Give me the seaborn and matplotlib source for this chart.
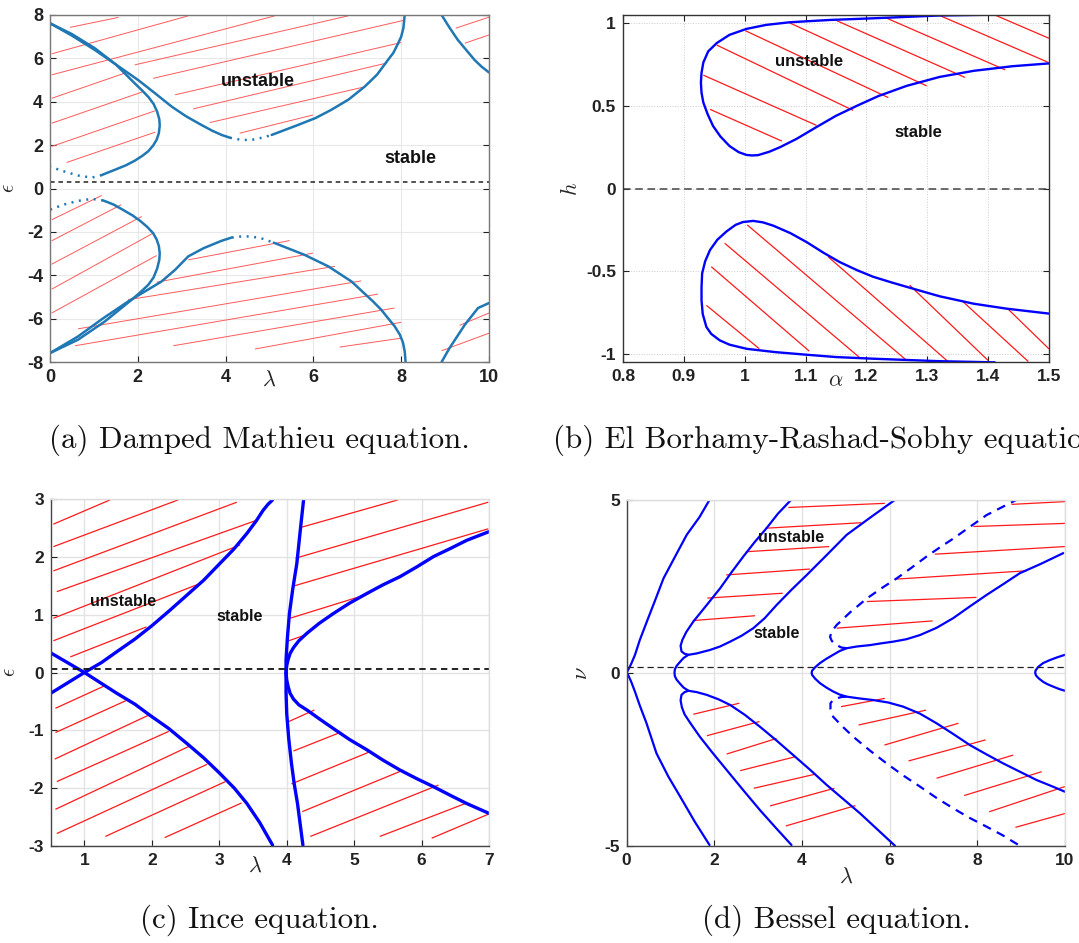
import numpy as np
import matplotlib
matplotlib.use('Agg')
import matplotlib.pyplot as plt
import seaborn as sns

# ---------------- (a) Damped Mathieu ----------------
a_hook_up_x = [0.0, 0.5, 1.02, 1.5, 1.93, 2.1, 2.25, 2.36, 2.44, 2.49, 2.5, 2.48, 2.43, 2.35, 2.24, 2.1,
               1.93, 1.73, 1.5, 1.3, 1.18]
a_hook_up_y = [7.62, 7.12, 6.47, 5.72, 4.85, 4.52, 4.2, 3.9, 3.55, 3.2, 2.9, 2.55, 2.25, 1.98, 1.72, 1.5,
               1.28, 1.07, 0.88, 0.72, 0.62]
a_hook_up_dot_x = [1.18, 0.95, 0.64, 0.3, 0.0]
a_hook_up_dot_y = [0.62, 0.5, 0.6, 0.8, 1.01]
a_v_up_x = [0.0, 0.5, 1.02, 1.5, 2.01, 2.4, 2.77, 3.1, 3.45, 3.7, 3.91, 4.1]
a_v_up_y = [7.62, 7.05, 6.39, 5.72, 5.0, 4.38, 3.78, 3.33, 2.93, 2.66, 2.47, 2.34]
a_v_up_dot_x = [4.1, 4.36, 4.59, 4.85, 5.05]
a_v_up_dot_y = [2.34, 2.24, 2.24, 2.35, 2.47]
a_v_up2_x = [5.05, 5.65, 6.05, 6.41, 6.8, 7.17, 7.45, 7.7, 7.82, 7.92, 8.0, 8.05, 8.08]
a_v_up2_y = [2.47, 2.93, 3.25, 3.63, 4.1, 4.7, 5.25, 5.93, 6.25, 6.65, 7.0, 7.4, 8.0]
a_right_up_x = [8.92, 9.1, 9.29, 9.48, 9.67, 9.83, 10.0]
a_right_up_y = [8.0, 7.42, 6.85, 6.39, 5.93, 5.62, 5.35]

a_hook_lo_x = [0.0, 0.64, 1.25, 1.86, 2.05, 2.24, 2.36, 2.44, 2.49, 2.5, 2.48, 2.43, 2.35, 2.22, 2.06,
               1.88, 1.66, 1.45, 1.3, 1.21]
a_hook_lo_y = [-7.59, -6.97, -6.13, -5.13, -4.8, -4.44, -4.1, -3.7, -3.3, -2.98, -2.65, -2.35, -2.06,
               -1.78, -1.5, -1.24, -0.98, -0.74, -0.62, -0.55]
a_hook_lo_dot_x = [1.21, 0.95, 0.64, 0.3, 0.0]
a_hook_lo_dot_y = [-0.55, -0.48, -0.57, -0.75, -0.98]
a_v_lo_x = [0.0, 0.64, 1.2, 1.78, 2.54, 2.85, 3.15, 3.5, 3.91, 4.14]
a_v_lo_y = [-7.59, -6.82, -6.0, -5.21, -4.29, -3.75, -3.13, -2.75, -2.41, -2.26]
a_v_lo_dot_x = [4.14, 4.36, 4.59, 4.85, 5.1]
a_v_lo_dot_y = [-2.26, -2.21, -2.21, -2.32, -2.5]
a_v_lo2_x = [5.1, 5.8, 6.34, 6.87, 7.36, 7.55, 7.7, 7.85, 7.97, 8.04, 8.08, 8.1]
a_v_lo2_y = [-2.5, -3.06, -3.59, -4.29, -5.21, -5.6, -5.98, -6.35, -6.74, -7.1, -7.51, -8.0]
a_right_lo_x = [8.92, 9.1, 9.45, 9.75, 10.0]
a_right_lo_y = [-8.0, -7.36, -6.28, -5.51, -5.28]

a_hx0 = [0.46, 0.04, 0.04, 1.93, 2.35, 2.85, 3.26, 3.64, 4.32, 0.04, 0.04, 0.04, 0.38, 9.24, 9.45,
         0.04, 0.04, 0.04, 0.04, 0.04, 3.15, 2.43, 1.78, 0.64, 0.57, 2.81, 4.67, 6.6, 9.33, 8.92]
a_hy0 = [7.43, 6.21, 5.24, 5.7, 5.08, 4.32, 3.67, 3.04, 2.55, 4.16, 3.01, 1.94, 1.2, 7.39, 6.7,
         -1.44, -2.41, -3.49, -4.64, -5.74, -3.29, -4.32, -5.13, -6.47, -7.25, -7.25, -7.4, -7.31, -6.31, -7.48]
a_hx1 = [1.56, 3.15, 5.12, 6.79, 8.05, 8.0, 7.66, 7.13, 5.99, 1.75, 2.1, 2.39, 2.4, 10.0, 10.0,
         1.18, 1.62, 2.09, 2.35, 2.43, 5.46, 5.99, 6.49, 7.09, 7.47, 7.85, 8.0, 8.0, 10.0, 10.0]
a_hy1 = [7.89, 7.96, 7.96, 7.96, 7.75, 6.73, 5.78, 4.67, 3.39, 5.35, 4.45, 3.58, 2.6, 7.9, 7.08,
         -0.32, -0.75, -1.29, -2.06, -3.09, -2.4, -2.98, -3.59, -4.26, -4.87, -5.51, -6.17, -6.9, -5.74, -6.67]

# ---------------- (b) El Borhamy-Rashad-Sobhy ----------------
b_up_x = [1.411, 1.32, 1.211, 1.14, 1.074, 1.035, 1.003, 0.975, 0.954, 0.94, 0.932, 0.929, 0.928, 0.929,
          0.932, 0.939, 0.948, 0.96, 0.975, 0.99, 1.003, 1.012, 1.022, 1.04, 1.058, 1.085, 1.118, 1.15,
          1.184, 1.22, 1.266, 1.32, 1.376, 1.44, 1.5]
b_up_y = [1.052, 1.047, 1.03, 1.02, 1.006, 0.99, 0.966, 0.93, 0.88, 0.83, 0.763, 0.7, 0.641, 0.58,
          0.52, 0.45, 0.378, 0.315, 0.257, 0.22, 0.203, 0.2, 0.202, 0.222, 0.25, 0.3, 0.372, 0.44,
          0.5, 0.56, 0.621, 0.675, 0.712, 0.74, 0.757]
b_lo_x = [1.411, 1.32, 1.211, 1.15, 1.102, 1.05, 1.003, 0.975, 0.959, 0.945, 0.937, 0.931, 0.929, 0.929,
          0.93, 0.935, 0.943, 0.955, 0.97, 0.985, 0.997, 1.014, 1.03, 1.047, 1.075, 1.102, 1.13, 1.156,
          1.185, 1.211, 1.24, 1.266, 1.32, 1.376, 1.43, 1.5]
b_lo_y = [-1.052, -1.045, -1.03, -1.02, -1.006, -0.99, -0.97, -0.945, -0.919, -0.88, -0.838, -0.76,
          -0.676, -0.6, -0.514, -0.44, -0.372, -0.31, -0.26, -0.22, -0.203, -0.196, -0.205, -0.225,
          -0.27, -0.325, -0.39, -0.445, -0.495, -0.534, -0.567, -0.595, -0.652, -0.697, -0.727, -0.757]
b_hx0 = [0.943, 0.932, 0.954, 1.001, 1.074, 1.151, 1.23, 1.321, 1.411,
         0.937, 0.945, 0.967, 1.004, 1.137, 1.271, 1.359, 1.432]
b_hy0 = [0.479, 0.686, 0.868, 0.955, 1.002, 1.016, 1.036, 1.046, 1.05,
         -0.707, -0.473, -0.331, -0.22, -0.413, -0.585, -0.686, -0.727]
b_hx1 = [1.061, 1.118, 1.178, 1.236, 1.299, 1.362, 1.428, 1.499, 1.5,
         1.024, 1.106, 1.191, 1.266, 1.334, 1.4, 1.466, 1.5]
b_hy1 = [0.287, 0.382, 0.473, 0.55, 0.621, 0.672, 0.718, 0.763, 0.909,
         -0.97, -0.984, -1.03, -1.04, -1.047, -1.041, -1.047, -0.971]
b_xticks = [0.8, 0.9, 1.0, 1.1, 1.2, 1.3, 1.4, 1.5]
b_xtick_labels = ['0.8', '0.9', '1', '1.1', '1.2', '1.3', '1.4', '1.5']
b_yticks = [-1, -0.5, 0, 0.5, 1]
b_ytick_labels = ['-1', '-0.5', '0', '0.5', '1']

# ---------------- (c) Ince ----------------
c1_x = [0.5, 1.0, 1.48, 1.75, 1.97, 2.25, 2.52, 2.77, 3.01, 3.22, 3.41, 3.6, 3.79]
c1_y = [0.34, 0.0, -0.36, -0.55, -0.74, -0.97, -1.23, -1.48, -1.75, -2.0, -2.27, -2.6, -2.99]
c2_x = [0.5, 1.0, 1.25, 1.48, 1.75, 2.0, 2.25, 2.52, 2.77, 3.01, 3.21, 3.41, 3.55, 3.65, 3.72, 3.79]
c2_y = [-0.36, 0.0, 0.17, 0.36, 0.58, 0.81, 1.06, 1.34, 1.6, 1.89, 2.13, 2.41, 2.63, 2.81, 2.91, 2.99]
c3_x = [4.25, 4.2, 4.15, 4.09, 4.04, 4.01, 3.99, 3.99, 3.99, 4.0, 4.03, 4.07, 4.11, 4.16, 4.2, 4.24]
c3_y = [2.99, 2.45, 1.89, 1.45, 1.02, 0.6, 0.22, -0.01, -0.35, -0.71, -1.15, -1.57, -1.92, -2.27, -2.63, -2.99]
c4_x = [3.99, 4.0, 4.02, 4.05, 4.1, 4.18, 4.3, 4.48, 4.69, 4.93, 5.19, 5.43, 5.68, 5.93, 6.18, 6.43, 6.67, 7.0]
c4_y = [-0.01, 0.12, 0.22, 0.33, 0.43, 0.55, 0.68, 0.85, 1.02, 1.2, 1.37, 1.52, 1.66, 1.83, 2.01, 2.15, 2.29, 2.44]
c5_x = [3.99, 4.0, 4.02, 4.05, 4.1, 4.18, 4.3, 4.48, 4.69, 4.93, 5.19, 5.43, 5.68, 5.93, 6.18, 6.43, 6.67, 7.0]
c5_y = [-0.01, -0.13, -0.24, -0.36, -0.46, -0.56, -0.65, -0.8, -0.97, -1.16, -1.34, -1.52, -1.69, -1.84,
        -1.98, -2.13, -2.27, -2.44]
c_hx0 = [0.54, 0.54, 0.54, 0.59, 0.54, 0.54, 0.79,
         4.2, 4.13, 4.08, 4.05, 4.03,
         0.57, 0.57, 0.56, 0.59, 0.57, 0.59, 1.31, 2.19,
         4.03, 4.1, 4.07, 4.23, 4.35, 5.38, 6.15]
c_hy0 = [2.57, 2.18, 1.76, 1.4, 0.94, 0.55, 0.27,
         2.51, 1.98, 1.49, 0.94, 0.55,
         -0.62, -1.04, -1.5, -1.89, -2.37, -2.79, -2.84, -2.86,
         -0.85, -1.36, -1.93, -2.41, -2.84, -2.84, -2.87]
c_hx1 = [1.38, 2.39, 3.26, 3.56, 3.31, 2.69, 1.92,
         5.65, 6.99, 6.99, 5.21, 4.3,
         1.3, 1.63, 1.95, 2.25, 2.55, 2.82, 3.09, 3.33,
         4.41, 4.79, 5.24, 5.73, 6.25, 6.67, 7.0]
c_hy1 = [2.99, 2.99, 2.95, 2.64, 2.21, 1.53, 0.79,
         2.99, 2.95, 2.49, 1.36, 0.66,
         -0.23, -0.48, -0.74, -1.02, -1.28, -1.59, -1.89, -2.26,
         -0.65, -1.04, -1.37, -1.69, -1.95, -2.26, -2.45]

# ---------------- (d) Bessel ----------------
d1_x = [1.89, 1.66, 1.37, 1.1, 0.84, 0.65, 0.46, 0.3, 0.19, 0.1, 0.04, 0.0,
        0.04, 0.1, 0.19, 0.3, 0.45, 0.68, 0.95, 1.22, 1.55, 1.89]
d1_y = [5.0, 4.5, 3.99, 3.35, 2.73, 2.1, 1.48, 0.95, 0.52, 0.25, 0.1, 0.0,
        -0.08, -0.25, -0.55, -0.95, -1.45, -2.33, -3.0, -3.58, -4.3, -4.98]
d2_x = [3.75, 3.45, 3.19, 2.92, 2.66, 2.4, 2.13, 1.82, 1.52, 1.36, 1.27, 1.23, 1.25, 1.32, 1.41,
        1.3, 1.22, 1.14, 1.1, 1.09, 1.1, 1.14, 1.22, 1.3, 1.41,
        1.32, 1.25, 1.23, 1.26, 1.32, 1.45, 1.67, 1.95, 2.28, 2.65, 3.04, 3.4, 3.76]
d2_y = [5.0, 4.6, 4.18, 3.78, 3.36, 2.92, 2.44, 1.95, 1.48, 1.18, 0.95, 0.78, 0.62, 0.55, 0.52,
        0.43, 0.32, 0.2, 0.1, 0.0, -0.1, -0.2, -0.32, -0.43, -0.52,
        -0.56, -0.64, -0.8, -1.0, -1.2, -1.45, -1.85, -2.3, -2.81, -3.38, -3.97, -4.48, -4.98]
d3_x = [1.41, 1.6, 1.9, 2.13, 2.36, 2.62, 2.89, 3.15, 3.42, 3.76, 4.11, 4.56, 5.02, 5.57, 6.12]
d3_y = [0.52, 0.56, 0.66, 0.76, 0.9, 1.07, 1.29, 1.58, 1.96, 2.4, 2.83, 3.4, 3.99, 4.5, 5.0]
d4_x = [1.41, 1.6, 1.83, 2.1, 2.36, 2.7, 3.04, 3.42, 3.8, 4.18, 4.56, 4.94, 5.32, 5.72, 6.12]
d4_y = [-0.52, -0.56, -0.64, -0.77, -0.93, -1.22, -1.56, -1.96, -2.38, -2.8, -3.24, -3.65, -4.06, -4.53, -5.0]
d5_x = [9.96, 9.45, 8.97, 8.6, 8.21, 7.83, 7.45, 7.07, 6.69, 6.38, 6.08, 5.8, 5.55, 5.25, 5.02, 4.86,
        4.71, 4.55, 4.41, 4.3, 4.23, 4.22, 4.23, 4.3, 4.41, 4.56, 4.71, 4.86, 5.02, 5.3, 5.63, 5.97,
        6.31, 6.69, 7.07, 7.45, 7.83, 8.21, 8.59, 8.97, 9.35, 9.7, 10.0]
d5_y = [3.46, 3.15, 2.88, 2.57, 2.25, 1.92, 1.58, 1.3, 1.09, 0.97, 0.9, 0.85, 0.8, 0.76, 0.71, 0.63,
        0.52, 0.4, 0.28, 0.16, 0.06, 0.0, -0.06, -0.17, -0.3, -0.43, -0.54, -0.63, -0.69, -0.74, -0.79,
        -0.86, -0.98, -1.18, -1.46, -1.77, -2.09, -2.36, -2.62, -2.86, -3.1, -3.28, -3.44]
d6_x = [5.02, 4.9, 4.79, 4.68, 4.64, 4.68, 4.79, 5.1, 5.48, 5.82, 6.16, 6.5, 6.84, 7.15, 7.45, 7.83,
        8.21, 8.58, 8.94]
d6_y = [0.71, 0.73, 0.8, 0.92, 1.04, 1.2, 1.38, 1.75, 2.15, 2.45, 2.73, 3.04, 3.36, 3.63, 3.88, 4.22,
        4.56, 4.8, 5.03]
d7_x = [5.02, 4.9, 4.79, 4.7, 4.65, 4.65, 4.71, 4.92, 5.17, 5.55, 5.93, 6.31, 6.69, 7.07, 7.45, 7.83,
        8.21, 8.58, 8.94]
d7_y = [-0.69, -0.7, -0.74, -0.8, -0.88, -1.05, -1.27, -1.55, -1.85, -2.25, -2.62, -2.97, -3.29, -3.62,
        -3.92, -4.2, -4.45, -4.7, -4.98]
d8_x = [10.0, 9.83, 9.66, 9.5, 9.39, 9.33, 9.32, 9.34, 9.4, 9.5, 9.6, 9.73, 9.87, 10.0]
d8_y = [0.52, 0.45, 0.37, 0.28, 0.17, 0.07, 0.0, -0.08, -0.16, -0.26, -0.33, -0.4, -0.47, -0.52]
d_hx0 = [3.69, 3.16, 2.72, 2.27, 1.84, 1.51,
         8.78, 7.91, 7.03, 6.16, 5.48, 4.79,
         1.52, 1.83, 2.28, 2.59, 2.9, 3.27, 3.63,
         4.89, 5.29, 5.88, 6.43, 7.07, 7.7, 8.27, 8.87]
d_hy0 = [4.78, 4.18, 3.5, 2.83, 2.16, 1.51,
         4.87, 4.23, 3.43, 2.71, 2.06, 1.29,
         -1.2, -1.82, -2.35, -2.83, -3.34, -3.85, -4.43,
         -0.98, -1.51, -2.09, -2.55, -3.05, -3.55, -4.02, -4.47]
d_hx1 = [5.89, 5.36, 4.62, 4.18, 3.56, 2.93,
         10.0, 10.0, 10.0, 9.13, 7.98, 6.98,
         2.57, 3.03, 3.42, 3.84, 4.31, 4.74, 5.22,
         5.89, 6.83, 7.57, 8.19, 8.82, 9.47, 10.0, 10.0]
d_hy1 = [4.9, 4.34, 3.65, 3.0, 2.3, 1.65,
         4.95, 4.32, 3.65, 2.95, 2.18, 1.5,
         -0.88, -1.41, -1.9, -2.43, -2.93, -3.34, -3.84,
         -0.74, -1.08, -1.46, -1.94, -2.38, -2.86, -3.29, -4.07]

captions = ['(a) Damped Mathieu equation.', '(b) El Borhamy-Rashad-Sobhy equation.',
            '(c) Ince equation.', '(d) Bessel equation.']

sns.set_theme(style='white')
plt.rcParams['font.family'] = ['Liberation Sans', 'DejaVu Sans']
plt.rcParams['mathtext.fontset'] = 'cm'
plt.rcParams['axes.unicode_minus'] = False


def curve(ax, xs, ys, color, lw, ls='-'):
    sns.lineplot(x=xs, y=ys, sort=False, estimator=None, color=color, lw=lw,
                 linestyle=ls, ax=ax, legend=False, solid_joinstyle='round')


def hatch(ax, x0, y0, x1, y1, color, lw):
    for i in range(len(x0)):
        ax.plot([x0[i], x1[i]], [y0[i], y1[i]], color=color, lw=lw, solid_capstyle='butt', zorder=1)


def frame(ax, fs, spine_col, grid_kw):
    ax.grid(True, **grid_kw)
    ax.set_axisbelow(True)
    ax.tick_params(direction='in', length=4, width=0.8, labelsize=fs, pad=5,
                   right=True, left=True, bottom=True, colors='#222222')
    for lab in ax.get_xticklabels() + ax.get_yticklabels():
        lab.set_fontweight('bold')
    for s in ax.spines.values():
        s.set_color(spine_col)
        s.set_linewidth(1.0)


fig = plt.figure(figsize=(10.79, 9.43), dpi=100)
ax_a = fig.add_axes([0.0463, 0.6161, 0.4069, 0.368])
ax_b = fig.add_axes([0.5774, 0.6161, 0.3948, 0.368])
ax_c = fig.add_axes([0.047, 0.1032, 0.4062, 0.3673])
ax_d = fig.add_axes([0.5808, 0.1032, 0.4062, 0.3667])

# ---- (a)
blue_a = '#1f77b4'
hatch(ax_a, a_hx0, a_hy0, a_hx1, a_hy1, '#ff5a5a', 0.7)
for xs, ys in [(a_hook_up_x, a_hook_up_y), (a_v_up_x, a_v_up_y), (a_v_up2_x, a_v_up2_y),
               (a_right_up_x, a_right_up_y), (a_hook_lo_x, a_hook_lo_y), (a_v_lo_x, a_v_lo_y),
               (a_v_lo2_x, a_v_lo2_y), (a_right_lo_x, a_right_lo_y)]:
    curve(ax_a, xs, ys, blue_a, 1.8)
for xs, ys in [(a_hook_up_dot_x, a_hook_up_dot_y), (a_v_up_dot_x, a_v_up_dot_y),
               (a_hook_lo_dot_x, a_hook_lo_dot_y), (a_v_lo_dot_x, a_v_lo_dot_y)]:
    curve(ax_a, xs, ys, blue_a, 1.8, (0, (0.8, 2.2)))
ax_a.axhline(0.28, color='#222222', lw=1.1, ls=(0, (3, 2.5)))
ax_a.set_xlim(0, 10)
ax_a.set_ylim(-8, 8)
ax_a.set_xticks([0, 2, 4, 6, 8, 10])
ax_a.set_yticks([-8, -6, -4, -2, 0, 2, 4, 6, 8])
frame(ax_a, 13, '#777777', dict(color='#e8e8e8', lw=0.8))
ax_a.text(4.74, 4.93, 'unstable', fontsize=13, fontweight='bold', ha='center', va='center', color='#111111')
ax_a.text(8.21, 1.4, 'stable', fontsize=13, fontweight='bold', ha='center', va='center', color='#111111')
ax_a.set_xlabel(r'$\lambda$', fontsize=16, va='top')
ax_a.xaxis.set_label_coords(0.5, -0.022)
ax_a.set_ylabel(r'$\epsilon$', fontsize=15)
ax_a.yaxis.set_label_coords(-0.073, 0.5)

# ---- (b)
hatch(ax_b, b_hx0, b_hy0, b_hx1, b_hy1, '#ff1a1a', 0.9)
curve(ax_b, b_up_x, b_up_y, '#0000ff', 1.7)
curve(ax_b, b_lo_x, b_lo_y, '#0000ff', 1.7)
ax_b.axhline(0, color='#444444', lw=1.1, ls=(0, (5, 3)))
ax_b.set_xlim(0.8, 1.5)
ax_b.set_ylim(-1.05, 1.05)
ax_b.set_xticks(b_xticks)
ax_b.set_xticklabels(b_xtick_labels)
ax_b.set_yticks(b_yticks)
ax_b.set_yticklabels(b_ytick_labels)
frame(ax_b, 12.5, '#333333', dict(color='#cccccc', lw=0.7, ls=':'))
ax_b.tick_params(top=True)
ax_b.text(1.106, 0.769, 'unstable', fontsize=12, fontweight='bold', ha='center', va='center', color='#111111')
ax_b.text(1.285, 0.337, 'stable', fontsize=12, fontweight='bold', ha='center', va='center', color='#111111')
ax_b.set_xlabel(r'$\alpha$', fontsize=16, va='top')
ax_b.xaxis.set_label_coords(0.5, -0.025)
ax_b.set_ylabel(r'$h$', fontsize=16)
ax_b.yaxis.set_label_coords(-0.096, 0.5)

# ---- (c)
hatch(ax_c, c_hx0, c_hy0, c_hx1, c_hy1, '#ff1a1a', 0.9)
for xs, ys in [(c1_x, c1_y), (c2_x, c2_y), (c3_x, c3_y), (c4_x, c4_y), (c5_x, c5_y)]:
    curve(ax_c, xs, ys, '#0000ff', 2.4)
ax_c.axhline(0.06, color='#111111', lw=1.3, ls=(0, (3.5, 2.5)))
ax_c.set_xlim(0.5, 7)
ax_c.set_ylim(-3, 3)
ax_c.set_xticks([1, 2, 3, 4, 5, 6, 7])
ax_c.set_yticks([-3, -2, -1, 0, 1, 2, 3])
frame(ax_c, 12.5, '#dddddd', dict(color='#e3e3e3', lw=1.0))
ax_c.spines['left'].set_color('#444444')
ax_c.spines['bottom'].set_color('#444444')
ax_c.tick_params(right=False)
ax_c.text(1.58, 1.23, 'unstable', fontsize=11.5, fontweight='bold', ha='center', va='center', color='#111111')
ax_c.text(3.3, 0.97, 'stable', fontsize=11.5, fontweight='bold', ha='center', va='center', color='#111111')
ax_c.set_xlabel(r'$\lambda$', fontsize=16, va='top')
ax_c.xaxis.set_label_coords(0.466, -0.03)
ax_c.set_ylabel(r'$\epsilon$', fontsize=15)
ax_c.yaxis.set_label_coords(-0.072, 0.5)

# ---- (d)
hatch(ax_d, d_hx0, d_hy0, d_hx1, d_hy1, '#ff1a1a', 0.9)
for xs, ys in [(d1_x, d1_y), (d2_x, d2_y), (d3_x, d3_y), (d4_x, d4_y), (d5_x, d5_y), (d8_x, d8_y)]:
    curve(ax_d, xs, ys, '#0000ff', 1.6)
for xs, ys in [(d6_x, d6_y), (d7_x, d7_y)]:
    curve(ax_d, xs, ys, '#0000ff', 1.6, (0, (4, 3)))
ax_d.axhline(0.18, color='#222222', lw=0.9, ls=(0, (5, 3)))
ax_d.set_xlim(0, 10)
ax_d.set_ylim(-5, 5)
ax_d.set_xticks([0, 2, 4, 6, 8, 10])
ax_d.set_yticks([-5, 0, 5])
frame(ax_d, 12.5, '#dddddd', dict(color='#e3e3e3', lw=1.0))
ax_d.spines['left'].set_color('#444444')
ax_d.spines['bottom'].set_color('#444444')
ax_d.tick_params(right=False)
ax_d.text(3.74, 3.91, 'unstable', fontsize=11.5, fontweight='bold', ha='center', va='center', color='#111111')
ax_d.text(3.42, 1.14, 'stable', fontsize=11.5, fontweight='bold', ha='center', va='center', color='#111111')
ax_d.set_xlabel(r'$\lambda$', fontsize=16, va='top')
ax_d.xaxis.set_label_coords(0.5, -0.06)
ax_d.set_ylabel(r'$\nu$', fontsize=16)
ax_d.yaxis.set_label_coords(-0.079, 0.5)

# captions
cap_font = dict(fontfamily='cmr10', fontsize=22.3, va='center', color='#111111')
fig.text(0.240, 0.5334, captions[0], ha='center', **cap_font)
fig.text(0.5125, 0.5334, captions[1], ha='left', **cap_font)
fig.text(0.240, 0.0244, captions[2], ha='center', **cap_font)
fig.text(0.775, 0.0244, captions[3], ha='center', **cap_font)

fig.savefig('out.png', dpi=100)
